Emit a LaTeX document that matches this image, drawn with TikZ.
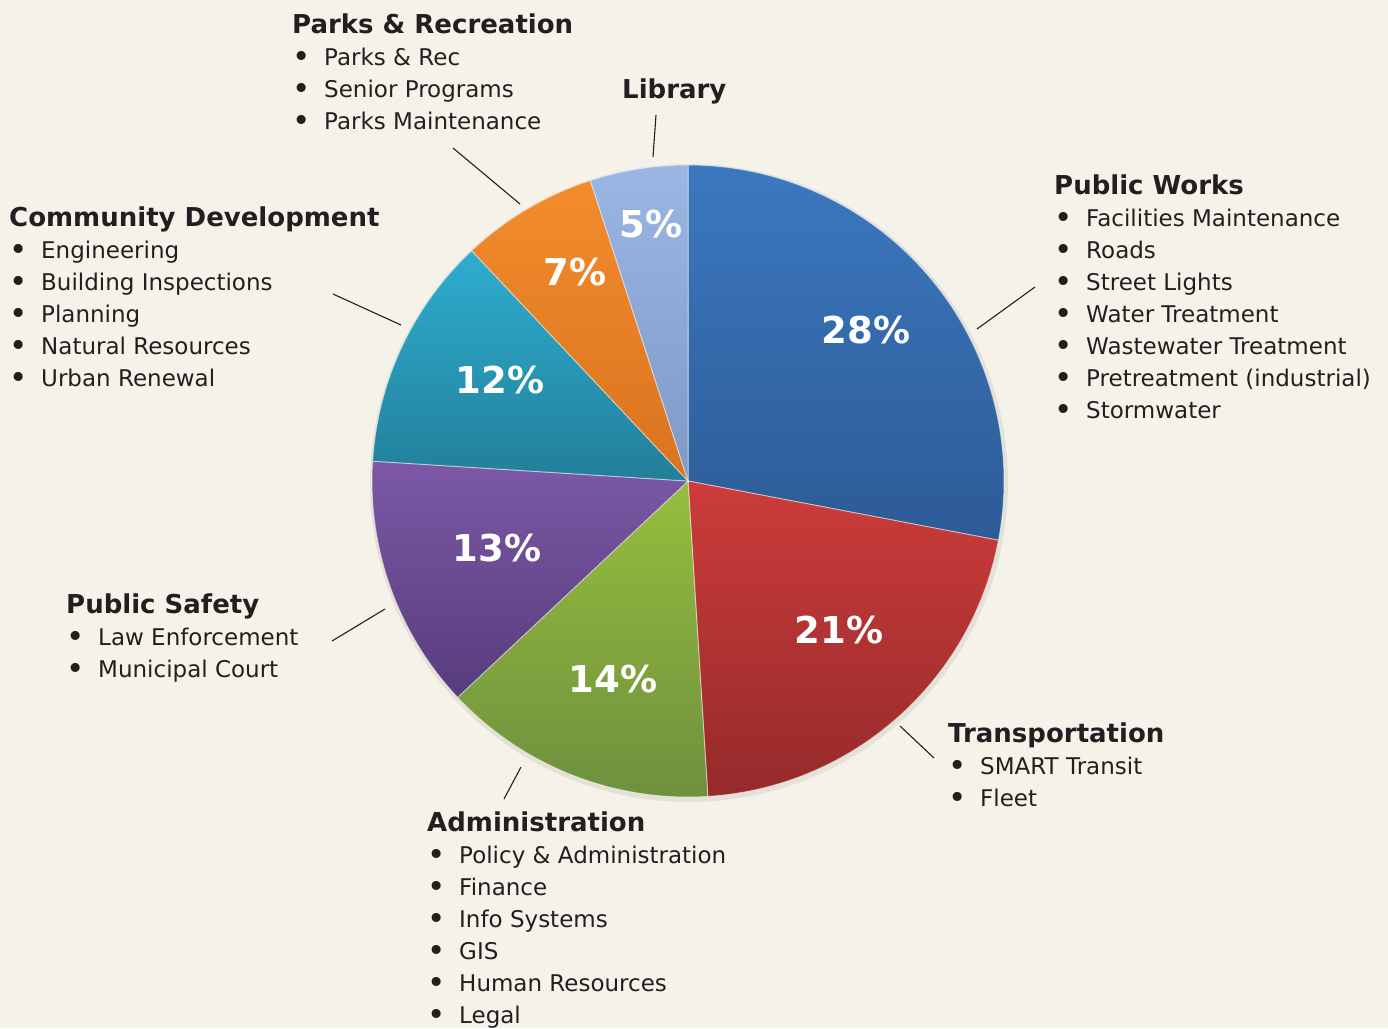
\documentclass[tikz,border=0pt]{standalone}
\usepackage{fontspec}
\setmainfont{DejaVu Sans}
\definecolor{bg}{HTML}{F5F3E9}
\definecolor{ink}{HTML}{231F20}
\definecolor{bluet}{HTML}{3B78BF}\definecolor{blueb}{HTML}{2D5B96}
\definecolor{redt}{HTML}{CC3C3A}\definecolor{redb}{HTML}{962A2B}
\definecolor{greent}{HTML}{97BE3E}\definecolor{greenb}{HTML}{6E8F3E}
\definecolor{purpt}{HTML}{7C58A6}\definecolor{purpb}{HTML}{573C7C}
\definecolor{tealt}{HTML}{2FADD0}\definecolor{tealb}{HTML}{227F9A}
\definecolor{orat}{HTML}{F38C2C}\definecolor{orab}{HTML}{D9731F}
\definecolor{lbt}{HTML}{9AB6E2}\definecolor{lbb}{HTML}{7F99C7}
\newcommand\itembul{\makebox[32pt][l]{\hspace{0.5pt}\raisebox{-0.1em}{\scalebox{1.35}{\textbullet}}}}
\begin{document}
\begin{tikzpicture}[x=1pt,y=-1pt,
  head/.style={anchor=base west,inner sep=0pt,text=ink,font=\fontsize{26}{30}\selectfont\bfseries},
  item/.style={anchor=base west,inner sep=0pt,text=ink,font=\fontsize{23}{28}\selectfont},
  pct/.style={anchor=base,inner sep=0pt,text=white,font=\fontsize{37}{40}\selectfont\bfseries},
  leader/.style={draw=ink,line width=1.1pt},
  slice/.style={draw=white,draw opacity=0.45,line width=1pt}]
\fill[bg] (0,0) rectangle (1388,1028);
\useasboundingbox (0,0) rectangle (1388,1028);
% pie
\coordinate (c) at (688,481);
\fill[black,opacity=0.07] (689,483) circle[radius=319];
\foreach \a/\b/\ct/\cb in {-90/10.8/bluet/blueb, 10.8/86.4/redt/redb, 86.4/136.8/greent/greenb, 136.8/183.6/purpt/purpb, 183.6/226.8/tealt/tealb, 226.8/252/orat/orab, 252/270/lbt/lbb}
  \draw[slice,top color=\ct,bottom color=\cb] (c) -- ++(\a:316) arc[start angle=\a,end angle=\b,radius=316] -- cycle;
% percentages
\node[pct] (p28) at (866,343) {28\%};
\node[pct] (p21) at (839,643) {21\%};
\node[pct] (p14) at (613,692) {14\%};
\node[pct] (p13) at (497,561) {13\%};
\node[pct] (p12) at (500,393) {12\%};
\node[pct] (p7) at (575,285) {7\%};
\node[pct] (p5) at (651,237) {5\%};
% Parks & Recreation
\node[head] (prh) at (292,33) {Parks \& Recreation};
\foreach \t [count=\i] in {Parks \& Rec, Senior Programs, Parks Maintenance}
  \node[item] (pr\i) at (292,33+32*\i) {\itembul\t};
% Library
\node[head] (lbh) at (622,98) {Library};
% Community Development
\node[head] (cdh) at (9,226) {Community Development};
\foreach \t [count=\i] in {Engineering, Building Inspections, Planning, Natural Resources, Urban Renewal}
  \node[item] (cd\i) at (9,226+32*\i) {\itembul\t};
% Public Works
\node[head] (pwh) at (1054,194) {Public Works};
\foreach \t [count=\i] in {Facilities Maintenance, Roads, Street Lights, Water Treatment, Wastewater Treatment, Pretreatment (industrial), Stormwater}
  \node[item] (pw\i) at (1054,194+32*\i) {\itembul\t};
% Public Safety
\node[head] (psh) at (66,613) {Public Safety};
\foreach \t [count=\i] in {Law Enforcement, Municipal Court}
  \node[item] (ps\i) at (66,613+32*\i) {\itembul\t};
% Transportation
\node[head] (trh) at (948,742) {Transportation};
\foreach \t [count=\i] in {SMART Transit, Fleet}
  \node[item] (tr\i) at (948,742+32*\i) {\itembul\t};
% Administration
\node[head] (adh) at (427,831) {Administration};
\foreach \t [count=\i] in {Policy \& Administration, Finance, Info Systems, GIS, Human Resources, Legal}
  \node[item] (ad\i) at (427,831+32*\i) {\itembul\t};
% leader lines
\coordinate (lpa) at (453,148); \coordinate (lpb) at (520,204);
\coordinate (lla) at (656,115); \coordinate (llb) at (653,157);
\coordinate (lwa) at (1035,287); \coordinate (lwb) at (977,329);
\coordinate (lca) at (333,294); \coordinate (lcb) at (401,325);
\coordinate (lsa) at (332,641); \coordinate (lsb) at (385,609);
\coordinate (laa) at (504,799); \coordinate (lab) at (521,767);
\coordinate (lta) at (934,758); \coordinate (ltb) at (900,726);
\draw[leader] (lpa) -- (lpb);
\draw[leader] (lla) -- (llb);
\draw[leader] (lwa) -- (lwb);
\draw[leader] (lca) -- (lcb);
\draw[leader] (lsa) -- (lsb);
\draw[leader] (laa) -- (lab);
\draw[leader] (lta) -- (ltb);
\end{tikzpicture}
\end{document}
